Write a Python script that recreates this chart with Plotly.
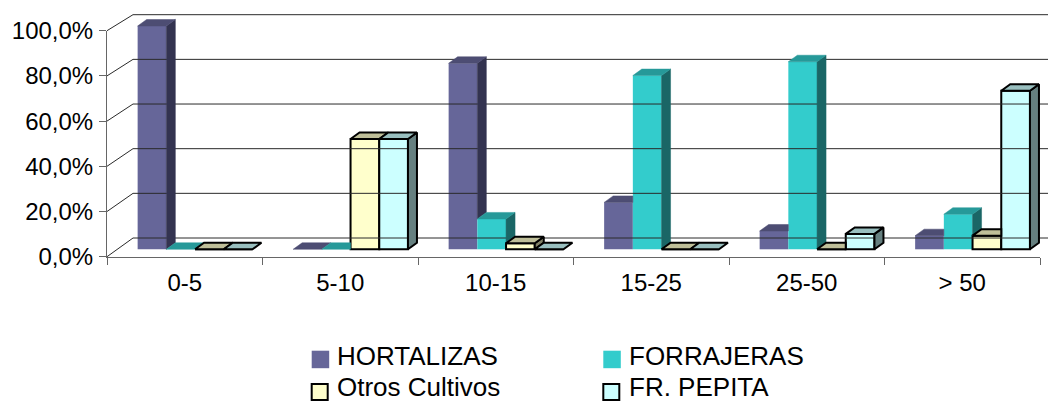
import plotly.graph_objects as go

# ---------------- data ----------------
categories = ["0-5", "5-10", "10-15", "15-25", "25-50", "> 50"]
hortalizas = [100.0, 0.0, 83.3, 21.0, 8.2, 6.1]
forrajeras = [0.0, 0.0, 13.6, 77.8, 84.0, 15.7]
otros_cultivos = [0.0, 49.4, 2.7, 0.0, 0.0, 6.1]
fr_pepita = [0.0, 49.4, 0.0, 0.0, 6.9, 71.0]
series_names = ["HORTALIZAS", "FORRAJERAS", "Otros Cultivos", "FR. PEPITA"]
y_tick_values = [0, 20, 40, 60, 80, 100]
y_tick_labels = ["0,0%", "20,0%", "40,0%", "60,0%", "80,0%", "100,0%"]

series_values = [hortalizas, forrajeras, otros_cultivos, fr_pepita]

# ---------------- styling ----------------
OFF = 8                       # page body offset of the figure
W, H = 1056, 404              # target window
WF, HF = W - OFF, H - OFF     # figure size
FONT = "Liberation Sans, Arial, sans-serif"
front_col = ["#666699", "#33CCCC", "#FFFFCC", "#CCFFFF"]
top_col = ["#4d4d73", "#269999", "#BFBF99", "#99BFBF"]
side_col = ["#333350", "#1a6666", "#808066", "#668080"]
outlined = [False, False, True, True]
OUT_W = 2

# geometry (window pixels)
AX_L, AX_R, AX_B, AX_T = 107.0, 1040.0, 256.7, 30.7     # front axes
CAT_PX = (AX_R - AX_L) / len(categories)
BAR_X0, BAR_Y0, PPU = 117.3, 249.3, 2.233              # bar plane
BACK_DX, BACK_DY = 15.7, 11.3                           # bar plane -> back wall
BW = 0.1846                                             # bar width (category units)
DDX = 9.0 / CAT_PX                                      # bar depth
DDY = 6.5 / PPU


def to_main(px, py):
    return (px - BAR_X0) / CAT_PX - 0.5, (BAR_Y0 - py) / PPU


def px_x(px):
    return (px - OFF) / WF


def px_y(py):
    return 1 - (py - OFF) / HF


x_lo, y_hi = to_main(OFF, OFF)
x_hi, y_lo = to_main(W, H)
bdx, bdy = BACK_DX / CAT_PX, BACK_DY / PPU

fig = go.Figure()

# ---- walls: gridlines on the back wall + left wall diagonals ----
gx, gy = [], []
for v in y_tick_values:
    fx, fy = to_main(AX_L, AX_B - v * (AX_B - AX_T) / 100.0)
    gx += [fx, -0.5 + bdx, len(categories) - 0.5 + bdx + 0.3, None]
    gy += [fy, v + bdy, v + bdy, None]
fig.add_trace(go.Scatter(x=gx, y=gy, mode="lines", line=dict(color="#2a2a2a", width=1),
                         hoverinfo="skip", showlegend=False, xaxis="x", yaxis="y"))

# ---- bars (front faces) + 3D side/top faces ----
n = len(series_values)
for i, vals in enumerate(series_values):
    off = -n / 2 * BW + i * BW
    fig.add_trace(go.Bar(
        x=list(range(len(categories))), y=vals, width=BW, offset=off,
        name=series_names[i], showlegend=False, hoverinfo="skip",
        marker=dict(color=front_col[i],
                    line=dict(color="black", width=OUT_W if outlined[i] else 0)),
        xaxis="x", yaxis="y"))
    sx, sy, tx, ty = [], [], [], []
    for k, v in enumerate(vals):
        L = k + off
        R = L + BW
        vn = series_values[i + 1][k] if i < n - 1 else None
        # top face (clipped by a taller neighbour on the right)
        if vn is None or vn <= v:
            pts = [(L, v), (R, v), (R + DDX, v + DDY), (L + DDX, v + DDY)]
        elif vn >= v + DDY:
            pts = [(L, v), (R, v), (R, v + DDY), (L + DDX, v + DDY)]
        else:
            pts = [(L, v), (R, v), (R, vn), (R + (vn - v) * DDX / DDY, vn),
                   (R + DDX, v + DDY), (L + DDX, v + DDY)]
        for p in pts + [pts[0]]:
            tx.append(p[0]); ty.append(p[1])
        tx.append(None); ty.append(None)
        # side face (visible above neighbour)
        lo = vn if vn is not None else 0.0
        if v > lo:
            pts = [(R, lo), (R + DDX, lo + DDY), (R + DDX, v + DDY), (R, v)]
            for p in pts + [pts[0]]:
                sx.append(p[0]); sy.append(p[1])
            sx.append(None); sy.append(None)
    for xs, ys, col in ((sx, sy, side_col[i]), (tx, ty, top_col[i])):
        if not xs:
            continue
        fig.add_trace(go.Scatter(
            x=xs, y=ys, mode="lines", fill="toself", fillcolor=col,
            line=dict(color="black" if outlined[i] else col,
                      width=OUT_W if outlined[i] else 0.5),
            hoverinfo="skip", showlegend=False, xaxis="x", yaxis="y"))

# ---- front axes (labels, ticks) ----
fig.add_trace(go.Scatter(x=categories, y=[0] * len(categories), mode="markers",
                         marker=dict(opacity=0), hoverinfo="skip", showlegend=False,
                         xaxis="x2", yaxis="y2"))

# ---- manual legend ----
leg_items = [
    (0, 311.7, 350.7, 335, 356),
    (1, 603.3, 350.7, 627, 356),
    (2, 311.7, 384.0, 335, 387),
    (3, 603.3, 384.0, 627, 387),
]
shapes, annotations = [], []
for i, sx0, sy0, tx0, ty0 in leg_items:
    sz = 17.5 if not outlined[i] else 16.0
    shapes.append(dict(type="rect", xref="paper", yref="paper",
                       x0=px_x(sx0), x1=px_x(sx0 + sz),
                       y0=px_y(sy0), y1=px_y(sy0 + sz),
                       fillcolor=front_col[i],
                       line=dict(color="black", width=OUT_W if outlined[i] else 0)))
    annotations.append(dict(text=series_names[i], xref="paper", yref="paper",
                            x=px_x(tx0), y=px_y(ty0), xanchor="left", yanchor="middle",
                            showarrow=False, font=dict(family=FONT, size=26, color="black")))

fig.update_layout(
    width=WF, height=HF, margin=dict(l=0, r=0, t=0, b=0, autoexpand=False),
    paper_bgcolor="white", plot_bgcolor="rgba(0,0,0,0)",
    barmode="overlay", separators=",.",
    font=dict(family=FONT, size=24, color="black"),
    shapes=shapes, annotations=annotations, hovermode=False,
    xaxis=dict(domain=[0, 1], range=[x_lo, x_hi], visible=False, fixedrange=True),
    yaxis=dict(domain=[0, 1], range=[y_lo, y_hi], visible=False, fixedrange=True),
    xaxis2=dict(domain=[px_x(AX_L), px_x(AX_R)], anchor="y2", type="category",
                categoryorder="array", categoryarray=categories, range=[-0.5, len(categories) - 0.5],
                tickson="boundaries", ticks="outside", ticklen=7, tickcolor="#666666",
                ticklabelstandoff=4,
                showline=True, linecolor="#666666", linewidth=1, showgrid=False, zeroline=False,
                tickfont=dict(family=FONT, size=24, color="black"), fixedrange=True),
    yaxis2=dict(domain=[px_y(AX_B), px_y(AX_T)], anchor="x2", range=[0, 100],
                tickvals=y_tick_values, ticktext=y_tick_labels,
                ticks="outside", ticklen=7, tickcolor="#666666", ticklabelstandoff=1,
                showline=True, linecolor="#666666", linewidth=1, showgrid=False, zeroline=False,
                tickfont=dict(family=FONT, size=24, color="black"), fixedrange=True),
)

fig.write_html("out.html")
